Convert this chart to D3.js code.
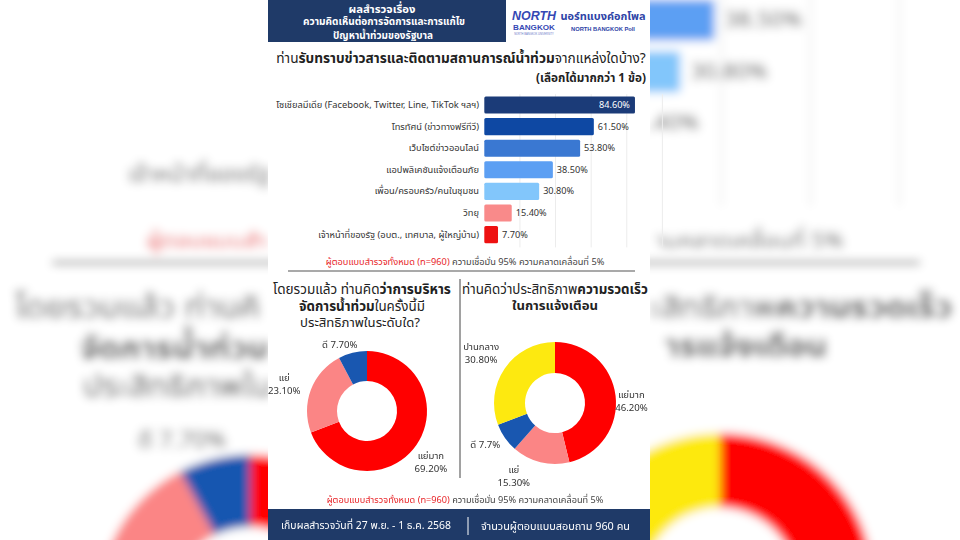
<!DOCTYPE html>
<html><head><meta charset="utf-8">
<script src="https://cdn.jsdelivr.net/npm/d3@7"></script>
<style>
html,body{margin:0;padding:0;background:#fff;}
svg{display:block;font-family:"Noto Sans Thai","Noto Sans","DejaVu Sans",sans-serif;}
</style></head><body>
<svg id="c" width="960" height="540"></svg>
<script>
// ---------- DATA ----------
const sources = [
  "โซเชียลมีเดีย (Facebook, Twitter, Line, TikTok ฯลฯ)",
  "โทรทัศน์ (ข่าวทางฟรีทีวี)",
  "เว็บไซต์ข่าวออนไลน์",
  "แอปพลิเคชันแจ้งเตือนภัย",
  "เพื่อน/ครอบครัว/คนในชุมชน",
  "วิทยุ",
  "เจ้าหน้าที่ของรัฐ (อบต., เทศบาล, ผู้ใหญ่บ้าน)"
];
const sourceValues = [84.6, 61.5, 53.8, 38.5, 30.8, 15.4, 7.7];
const sourceLabels = ["84.60%", "61.50%", "53.80%", "38.50%", "30.80%", "15.40%", "7.70%"];
const gridTicks = [20, 40, 60, 80, 100];

const mgmtCategories = ["แย่มาก", "แย่", "ดี"];
const mgmtValues = [69.2, 23.1, 7.7];
const mgmtLabels = ["69.20%", "23.10%", "7.70%"];

const warnCategories = ["แย่มาก", "แย่", "ดี", "ปานกลาง"];
const warnValues = [46.2, 15.3, 7.7, 30.8];
const warnLabels = ["46.20%", "15.30%", "7.7%", "30.80%"];

// ---------- STYLE ----------
const barColors = ["#1b3b78", "#0e48a3", "#3a78d2", "#5c9ff3", "#82c6fb", "#f98a8a", "#ee1111"];
const pieColors = {"แย่มาก": "#ff0000", "แย่": "#fb8585", "ดี": "#1957b0", "ปานกลาง": "#fde910"};
const NAVY = "#1f3a68";
const RED = "#e8262a";
const LOGO = "#3548b4";
const LATIN = "'Liberation Sans', Arial, sans-serif";
const PANEL_L = 268, PANEL_R = 650;

const svg = d3.select("#c");
const defs = svg.append("defs");
defs.append("filter").attr("id", "blur").attr("x", -0.1).attr("y", -0.1).attr("width", 1.2).attr("height", 1.2)
  .append("feGaussianBlur").attr("stdDeviation", 5);
const cp = defs.append("clipPath").attr("id", "outside");
cp.append("rect").attr("x", 0).attr("y", 0).attr("width", PANEL_L).attr("height", 540);
cp.append("rect").attr("x", PANEL_R).attr("y", 0).attr("width", 960 - PANEL_R).attr("height", 540);

function txt(g, x, y, parts, o) {
  const t = g.append("text").attr("x", x).attr("y", y)
    .attr("text-anchor", o.anchor || "start")
    .attr("dominant-baseline", "central")
    .attr("font-size", o.size)
    .attr("fill", o.fill || "#333")
    .attr("font-weight", o.weight || "normal");
  if (o.italic) t.attr("font-style", "italic");
  if (o.family) t.attr("font-family", o.family);
  if (typeof parts === "string") parts = [[parts]];
  parts.forEach(p => {
    const s = t.append("tspan").text(p[0]);
    if (p[1]) s.attr("font-weight", "bold");
    if (p[2]) s.attr("fill", p[2]);
  });
  if (o.width) {
    const L = t.node().getComputedTextLength();
    if (L > 0) {
      const fs = o.size * o.width / L;
      t.attr("font-size", Math.max(o.size * 0.6, Math.min(o.size * 1.5, fs)));
    }
  }
  return t;
}

function fitSize(g, sample, target, base) {
  const t = g.append("text").attr("font-size", base).text(sample);
  const L = t.node().getComputedTextLength();
  t.remove();
  return L > 0 ? base * target / L : base;
}

function donut(g, cx, cy, cats, vals, labs, rOut, rIn, lr, nudges, fsz) {
  const pie = d3.pie().sort(null).value(d => d.v);
  const data = pie(cats.map((c, i) => ({c, v: vals[i], l: labs[i]})));
  const arc = d3.arc().innerRadius(rIn).outerRadius(rOut);
  const gg = g.append("g").attr("transform", `translate(${cx},${cy})`);
  gg.selectAll("path").data(data).join("path").attr("d", arc).attr("fill", d => pieColors[d.data.c]);
  const lab = d3.arc().innerRadius(lr).outerRadius(lr);
  data.forEach(d => {
    const [x0, y0] = lab.centroid(d);
    const n = nudges[d.data.c] || [0, 0];
    const x = x0 + n[0], y = y0 + n[1];
    if (d.data.c === "ดี") {
      txt(gg, x, y, d.data.c + "  " + d.data.l, {size: fsz, anchor: "middle"});
    } else {
      txt(gg, x, y - 6.5, d.data.c, {size: fsz, anchor: "middle"});
      txt(gg, x, y + 6.5, d.data.l, {size: fsz, anchor: "middle"});
    }
  });
}

function draw(g) {
  // panel
  g.append("rect").attr("x", 268).attr("y", 0).attr("width", 382).attr("height", 540).attr("fill", "#fff");
  // header
  g.append("rect").attr("x", 268).attr("y", 0).attr("width", 238).attr("height", 42).attr("fill", NAVY);
  txt(g, 382, 8.5, [["ผลสำรวจเรื่อง", true]], {size: 11.5, anchor: "middle", fill: "#fff", width: 67});
  txt(g, 384, 22, [["ความคิดเห็นต่อการจัดการและการแก้ไข", true]], {size: 10.5, anchor: "middle", fill: "#fff", width: 162});
  txt(g, 383, 34.5, [["ปัญหาน้ำท่วมของรัฐบาล", true]], {size: 10.5, anchor: "middle", fill: "#fff", width: 100});
  // logo
  txt(g, 534, 15.5, [["NORTH", true]], {size: 13, anchor: "middle", fill: LOGO, italic: true, width: 44, family: LATIN});
  txt(g, 534, 27, [["BANGKOK", true]], {size: 7.5, anchor: "middle", fill: LOGO, width: 42, family: LATIN});
  txt(g, 534, 33.6, "NORTH BANGKOK UNIVERSITY", {size: 3, anchor: "middle", fill: "#6a78c8", width: 40, family: LATIN});
  txt(g, 603, 15.5, [["นอร์ทแบงค์อกโพล", true]], {size: 12, anchor: "middle", fill: "#2e43a6", width: 85});
  txt(g, 603, 28.5, [["NORTH BANGKOK Poll", true]], {size: 7, anchor: "middle", fill: "#2e43a6", width: 64, family: LATIN});

  // title
  txt(g, 461, 59, [["ท่าน"], ["รับทราบข่าวสารและติดตามสถานการณ์น้ำท่วม", true], ["จากแหล่งใดบ้าง?"]],
      {size: 15, anchor: "middle", fill: "#222", width: 370});
  txt(g, 646, 78, [["(เลือกได้มากกว่า 1 ข้อ)", true]], {size: 10.5, anchor: "end", fill: "#222", width: 110});

  const numSize = fitSize(g, "38.50%", 31, 10);

  // bar chart
  const x = d3.scaleLinear().domain([0, 100]).range([484.3, 662.4]);
  const y = d3.scaleBand().domain(sources).range([94.2, 245.4]).paddingInner(0.21).paddingOuter(0.105);
  const grid = g.append("g");
  grid.selectAll("line").data(gridTicks).join("line")
    .attr("x1", d => x(d)).attr("x2", d => x(d)).attr("y1", y.range()[0]).attr("y2", y.range()[1] + 2)
    .attr("stroke", "#ececec").attr("stroke-width", 1);
  g.selectAll(null).data(sources).join("rect")
    .attr("x", x(0)).attr("y", d => y(d)).attr("height", y.bandwidth())
    .attr("width", (d, i) => x(sourceValues[i]) - x(0))
    .attr("rx", 1.5).attr("fill", (d, i) => barColors[i]);
  const catG = g.append("g");
  const cat = sources.map(s => txt(catG, 479, y(s) + y.bandwidth() / 2, s, {size: 10.5, anchor: "end", fill: "#333"}));
  const L0 = cat[0].node().getComputedTextLength();
  const fs = Math.max(8, Math.min(13, 10.5 * 203 / L0));
  cat.forEach(t => t.attr("font-size", fs));
  sources.forEach((s, i) => {
    const inside = i === 0;
    txt(g, inside ? x(sourceValues[i]) - 5 : x(sourceValues[i]) + 4, y(s) + y.bandwidth() / 2, sourceLabels[i],
        {size: numSize, anchor: inside ? "end" : "start", fill: inside ? "#fff" : "#333"});
  });

  // footnote 1
  txt(g, 465, 262, [["ผู้ตอบแบบสำรวจทั้งหมด (n=960) ", false, RED], ["ความเชื่อมั่น 95% ความคลาดเคลื่อนที่ 5%"]],
      {size: 9, anchor: "middle", fill: "#444", width: 279});
  g.append("line").attr("x1", 288).attr("x2", 635).attr("y1", 271).attr("y2", 271).attr("stroke", "#555").attr("stroke-width", 1.2);

  // left section title
  txt(g, 362, 290, [["โดยรวมแล้ว ท่านคิด"], ["ว่าการบริหาร", true]], {size: 14, anchor: "middle", fill: "#222", width: 178});
  txt(g, 362, 307, [["จัดการน้ำท่วม", true], ["ในครั้งนี้มี"]], {size: 14, anchor: "middle", fill: "#222", width: 126});
  txt(g, 360, 323, "ประสิทธิภาพในระดับใด?", {size: 14, anchor: "middle", fill: "#222", width: 120});
  // divider
  g.append("line").attr("x1", 460).attr("x2", 460).attr("y1", 279).attr("y2", 478).attr("stroke", "#444").attr("stroke-width", 1);
  // right section title
  txt(g, 555, 290, [["ท่านคิดว่าประสิทธิภาพ"], ["ความรวดเร็ว", true]], {size: 14, anchor: "middle", fill: "#222", width: 186});
  txt(g, 555, 306, [["ในการแจ้งเตือน", true]], {size: 14, anchor: "middle", fill: "#222", width: 86});

  const pieSize = numSize * 1.05;
  donut(g, 367, 411, mgmtCategories, mgmtValues, mgmtLabels, 60, 30, 80,
        {"ดี": [-8, 12], "แย่": [-8, 2], "แย่มาก": [-2, 6]}, pieSize);
  donut(g, 555, 403, warnCategories, warnValues, warnLabels, 61, 30, 80,
        {"แย่มาก": [-3, 8], "แย่": [-22, -4], "ดี": [-4, -4], "ปานกลาง": [-8, -4]}, pieSize);

  // footnote 2
  txt(g, 465, 500, [["ผู้ตอบแบบสำรวจทั้งหมด (n=960) ", false, RED], ["ความเชื่อมั่น 95% ความคลาดเคลื่อนที่ 5%"]],
      {size: 9, anchor: "middle", fill: "#444", width: 277});

  // footer
  g.append("rect").attr("x", 268).attr("y", 509).attr("width", 382).attr("height", 31).attr("fill", NAVY);
  txt(g, 366, 525.5, "เก็บผลสำรวจวันที่ 27 พ.ย. - 1 ธ.ค. 2568", {size: 12, anchor: "middle", fill: "#fff", width: 170});
  g.append("line").attr("x1", 468).attr("x2", 468).attr("y1", 517).attr("y2", 535).attr("stroke", "#fff").attr("stroke-width", 1);
  txt(g, 555.5, 525.5, "จำนวนผู้ตอบแบบสอบถาม 960 คน", {size: 12, anchor: "middle", fill: "#fff", width: 149});
}

// white page
svg.append("rect").attr("width", 960).attr("height", 540).attr("fill", "#fff");
// blurred, enlarged backdrop (only the parts outside the panel are visible)
const bgClip = svg.append("g").attr("clip-path", "url(#outside)").attr("aria-hidden", "true");
const bgOuter = bgClip.append("g").attr("filter", "url(#blur)");
const bg = bgOuter.append("g").attr("transform", "translate(-667.5,-387.6) scale(2.5,2.4)");
draw(bg);

// keep only the parts of backdrop texts that are visible beside the panel
const isMark = c => /[\u0E31\u0E34-\u0E3A\u0E47-\u0E4E]/.test(c);
bg.selectAll("text").each(function () {
  const node = this;
  const r = node.getBoundingClientRect();
  const gone = (r.left >= PANEL_L && r.right <= PANEL_R) || r.bottom <= 2 || r.bottom > 528 ||
               r.right <= 0 || r.left >= 960;
  if (gone) { node.remove(); return; }
  if (r.right <= PANEL_L + 2 || r.left >= PANEL_R - 2) return;
  const chars = [], styles = [];
  d3.select(node).selectAll("tspan").each(function () {
    const s = this.textContent;
    for (let k = 0; k < s.length; k++) {
      chars.push(s[k]);
      styles.push({w: this.getAttribute("font-weight"), f: this.getAttribute("fill")});
    }
  });
  const ctm = node.getScreenCTM();
  const pt = svg.node().createSVGPoint();
  const scr = i => {
    try {
      const p = node.getStartPositionOfChar(i), e = node.getEndPositionOfChar(i);
      pt.x = p.x; pt.y = p.y; const a = pt.matrixTransform(ctm);
      pt.x = e.x; pt.y = e.y; const b = pt.matrixTransform(ctm);
      return {s: a.x, e: b.x, lx: p.x};
    } catch (err) { return null; }
  };
  const pos = chars.map((c, i) => scr(i));
  const pieces = [];
  let k = -1;
  for (let i = 0; i < chars.length; i++) if (pos[i] && pos[i].e <= PANEL_L + 4) k = i;
  while (k >= 0 && k + 1 < chars.length && isMark(chars[k + 1])) k++;
  if (k >= 0) pieces.push([0, k]);
  let j = chars.length;
  for (let i = chars.length - 1; i >= 0; i--) if (pos[i] && pos[i].s >= PANEL_R - 4) j = i;
  while (j < chars.length && j > 0 && isMark(chars[j])) j--;
  if (j < chars.length && j > k) pieces.push([j, chars.length - 1]);
  const parent = d3.select(node.parentNode);
  pieces.forEach(([a, b]) => {
    if (!pos[a]) return;
    const t = parent.append("text").attr("x", pos[a].lx).attr("y", node.getAttribute("y"))
      .attr("text-anchor", "start").attr("dominant-baseline", "central")
      .attr("font-size", node.getAttribute("font-size")).attr("fill", node.getAttribute("fill"))
      .attr("font-weight", node.getAttribute("font-weight"));
    let run = null;
    for (let i = a; i <= b; i++) {
      const st = styles[i];
      if (!run || run.w !== st.w || run.f !== st.f) {
        run = {w: st.w, f: st.f, sp: t.append("tspan"), txt: ""};
        if (st.w) run.sp.attr("font-weight", st.w);
        if (st.f) run.sp.attr("fill", st.f);
      }
      run.txt += chars[i];
      run.sp.text(run.txt);
    }
  });
  node.remove();
});

// foreground panel
const fg = svg.append("g");
draw(fg);
</script>
</body></html>
